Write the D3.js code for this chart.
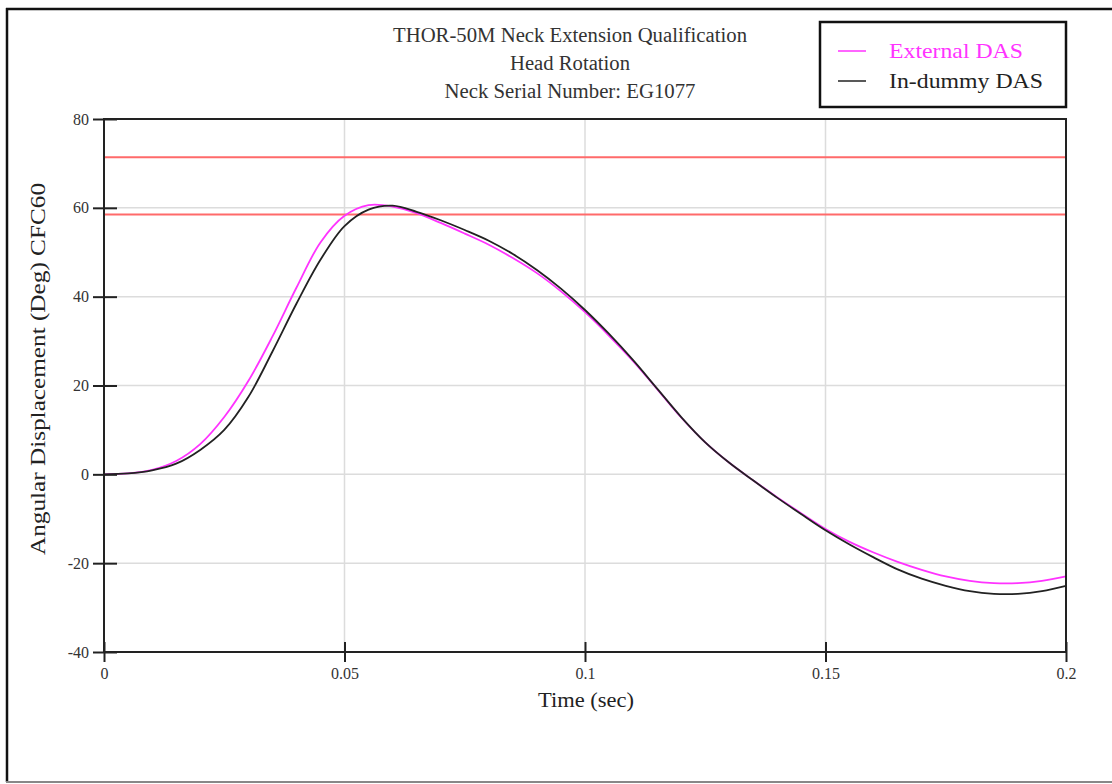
<!DOCTYPE html>
<html>
<head>
<meta charset="utf-8">
<script src="https://cdn.jsdelivr.net/npm/d3@7"></script>
<style>
  body { margin: 0; background: #fff; }
  svg { display: block; font-family: "Liberation Serif", "DejaVu Serif", serif; }
</style>
</head>
<body>
<div id="chart"></div>
<script>
// time samples (sec)
const time = [0, 0.005, 0.01, 0.015, 0.02, 0.025, 0.03, 0.035, 0.04, 0.045,
  0.05, 0.055, 0.06, 0.065, 0.07, 0.075, 0.08, 0.085, 0.09, 0.095,
  0.1, 0.105, 0.11, 0.115, 0.12, 0.125, 0.13, 0.135, 0.14, 0.145,
  0.15, 0.155, 0.16, 0.165, 0.17, 0.175, 0.18, 0.185, 0.19, 0.195, 0.2];

const externalDAS = [0, 0.2, 1.0, 3.0, 6.8, 12.9, 21.0, 31.0, 42.0, 52.2,
  58.2, 60.6, 60.3, 58.8, 56.6, 54.2, 51.7, 48.7, 45.3, 41.2,
  36.5, 31.2, 25.5, 19.2, 12.8, 7.2, 2.6, -1.4, -5.2, -8.8,
  -12.3, -15.2, -17.6, -19.7, -21.5, -23.0, -24.0, -24.5, -24.5, -24.0, -23.0];

const inDummyDAS = [0, 0.2, 0.9, 2.4, 5.5, 10.0, 17.4, 27.6, 38.4, 48.3,
  55.9, 59.6, 60.5, 59.1, 57.2, 55.0, 52.6, 49.6, 46.0, 41.8,
  37.0, 31.6, 25.7, 19.3, 12.9, 7.2, 2.6, -1.4, -5.3, -9.0,
  -12.6, -15.8, -18.7, -21.4, -23.5, -25.1, -26.3, -26.9, -26.9, -26.3, -25.1];

const limits = [71.4, 58.5];

const xTicks = [0, 0.05, 0.1, 0.15, 0.2];
const yTicks = [-40, -20, 0, 20, 40, 60, 80];

const titleLines = ["THOR-50M Neck Extension Qualification", "Head Rotation", "Neck Serial Number: EG1077"];
const titleWidths = [354, 120, 251];
const seriesNames = ["External DAS", "In-dummy DAS"];
const seriesColors = ["#ff33ff", "#222222"];

const W = 1112, H = 784;
const plot = {left: 104, right: 1066, top: 119, bottom: 652};

const svg = d3.select("#chart").append("svg")
    .attr("width", W)
    .attr("height", H);

// outer page frame
svg.append("line").attr("x1", 7).attr("x2", 7).attr("y1", 8).attr("y2", 782)
    .attr("stroke", "#111").attr("stroke-width", 2.5);
svg.append("line").attr("x1", 6).attr("x2", W).attr("y1", 9).attr("y2", 9)
    .attr("stroke", "#111").attr("stroke-width", 2.5);
svg.append("line").attr("x1", 6).attr("x2", W).attr("y1", 782).attr("y2", 782)
    .attr("stroke", "#888").attr("stroke-width", 2);

const x = d3.scaleLinear().domain([0, 0.2]).range([plot.left, plot.right]);
const y = d3.scaleLinear().domain([-40, 80]).range([plot.bottom, plot.top]);

// grid
svg.append("g").selectAll("line").data(xTicks.slice(1, -1)).enter().append("line")
    .attr("x1", d => x(d)).attr("x2", d => x(d))
    .attr("y1", plot.top).attr("y2", plot.bottom)
    .attr("stroke", "#dcdcdc").attr("stroke-width", 1.5);
svg.append("g").selectAll("line").data(yTicks.slice(1, -1)).enter().append("line")
    .attr("x1", plot.left).attr("x2", plot.right)
    .attr("y1", d => y(d)).attr("y2", d => y(d))
    .attr("stroke", "#dcdcdc").attr("stroke-width", 1.5);

// limit lines
svg.append("g").selectAll("line").data(limits).enter().append("line")
    .attr("x1", plot.left).attr("x2", plot.right)
    .attr("y1", d => y(d)).attr("y2", d => y(d))
    .attr("stroke", "#ff6a6a").attr("stroke-width", 2);

// curves
const line = d3.line()
    .x((d, i) => x(time[i]))
    .y(d => y(d))
    .curve(d3.curveCatmullRom.alpha(0.5));

[externalDAS, inDummyDAS].forEach(function(s, k) {
  svg.append("path")
      .datum(s)
      .attr("fill", "none")
      .attr("stroke", seriesColors[k])
      .attr("stroke-width", 1.8)
      .attr("d", line);
});

// plot frame
svg.append("rect")
    .attr("x", plot.left).attr("y", plot.top)
    .attr("width", plot.right - plot.left).attr("height", plot.bottom - plot.top)
    .attr("fill", "none").attr("stroke", "#222").attr("stroke-width", 2);

// axes (ticks crossing the frame)
const yAxis = svg.append("g")
    .attr("transform", "translate(" + plot.left + ",0)")
    .call(d3.axisLeft(y).tickValues(yTicks).tickFormat(d => String(d)).tickSizeInner(11).tickSizeOuter(0).tickPadding(4));
yAxis.attr("font-family", "Liberation Serif");
yAxis.select(".domain").remove();
yAxis.selectAll(".tick line").attr("x2", 13).attr("x1", -11).attr("stroke", "#222").attr("stroke-width", 2);
yAxis.selectAll("text").style("font-size", "16px").attr("fill", "#333");

const xAxis = svg.append("g")
    .attr("transform", "translate(0," + plot.bottom + ")")
    .call(d3.axisBottom(x).tickValues(xTicks).tickFormat(d => String(d)).tickSizeInner(10).tickSizeOuter(0).tickPadding(6));
xAxis.attr("font-family", "Liberation Serif");
xAxis.select(".domain").remove();
xAxis.selectAll(".tick line").attr("y1", -10).attr("y2", 10).attr("stroke", "#222").attr("stroke-width", 2);
xAxis.selectAll("text").style("font-size", "16px").attr("fill", "#333");

// title
svg.append("g").selectAll("text").data(titleLines).enter().append("text")
    .attr("x", 570)
    .attr("y", (d, i) => 42 + i * 28)
    .attr("text-anchor", "middle")
    .attr("fill", "#333")
    .attr("textLength", (d, i) => titleWidths[i])
    .attr("lengthAdjust", "spacingAndGlyphs")
    .style("font-size", "20px")
    .text(d => d);

// axis labels
svg.append("text")
    .attr("x", 586).attr("y", 707)
    .attr("text-anchor", "middle")
    .attr("fill", "#222")
    .attr("textLength", 96)
    .attr("lengthAdjust", "spacingAndGlyphs")
    .style("font-size", "21px")
    .text("Time (sec)");

svg.append("text")
    .attr("transform", "translate(45,369) rotate(-90)")
    .attr("text-anchor", "middle")
    .attr("fill", "#222")
    .attr("textLength", 372)
    .attr("lengthAdjust", "spacingAndGlyphs")
    .style("font-size", "22px")
    .text("Angular Displacement (Deg) CFC60");

// legend
const legendWidths = [134, 154];
const legend = svg.append("g");
legend.append("rect")
    .attr("x", 820).attr("y", 22).attr("width", 246).attr("height", 85)
    .attr("fill", "#fff").attr("stroke", "#111").attr("stroke-width", 2.5);
seriesNames.forEach(function(name, k) {
  legend.append("line")
      .attr("x1", 838).attr("x2", 866)
      .attr("y1", 51 + k * 30).attr("y2", 51 + k * 30)
      .attr("stroke", seriesColors[k]).attr("stroke-width", 1.5);
  legend.append("text")
      .attr("x", 889).attr("y", 58 + k * 30)
      .attr("fill", k === 0 ? "#ff33ff" : "#222")
      .attr("textLength", legendWidths[k])
      .attr("lengthAdjust", "spacingAndGlyphs")
      .style("font-size", "22px")
      .text(name);
});
</script>
</body>
</html>
